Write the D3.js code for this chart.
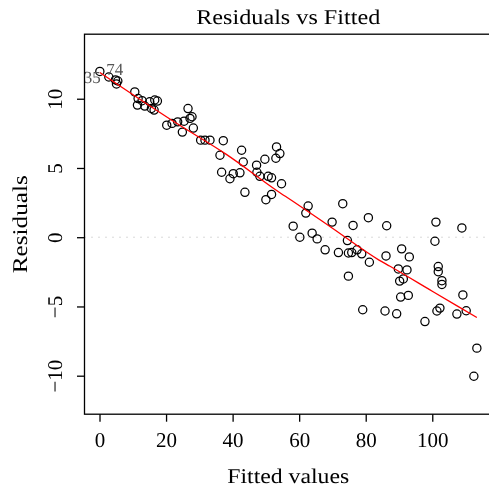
<!DOCTYPE html>
<html>
<head>
<meta charset="utf-8">
<script src="https://cdn.jsdelivr.net/npm/d3@7"></script>
<style>
  body { margin: 0; background: #fff; }
  svg { will-change: transform; }
  svg text { font-family: "Liberation Serif", serif; text-rendering: geometricPrecision; }
</style>
</head>
<body>
<div id="chart"></div>
<script>
// fitted values and residuals
var fitted = [0.1, 2.8, 4.8, 5.1, 5.5, 10.6, 11.6, 11.4, 12.8, 13.6, 15.1, 16.6, 17.4, 15.6, 16.4,
  20.2, 21.8, 23.5, 24.9, 26.6, 27.8, 27.2, 28.2, 25.4, 30.4, 31.7, 33.2, 37.2, 36.2, 42.7,
  43.2, 36.7, 39.2, 40.2, 42.2, 43.7, 47.2, 47.3, 49.7, 53.2, 54.2, 53.0, 48.2, 50.7, 51.7,
  54.7, 50.0, 51.7, 62.7, 62.0, 73.1, 80.8, 86.3, 58.2, 60.2, 63.9, 65.4, 69.9, 76.2, 67.8,
  71.8, 74.5, 74.8, 75.8, 77.4, 78.8, 81.1, 74.8, 86.1, 101.1, 108.9, 100.8, 90.8, 93.1, 89.8,
  92.4, 90.2, 91.3, 101.8, 101.8, 102.9, 102.9, 90.5, 92.8, 109.2, 85.8, 89.3, 97.8, 101.4, 102.3,
  107.4, 110.2, 113.4, 112.5, 79.1];
var residuals = [11.97, 11.57, 11.36, 11.07, 11.28, 10.49, 10.01, 9.54, 9.86, 9.47, 9.78, 9.91, 9.83, 9.30, 9.18,
  8.09, 8.22, 8.33, 7.59, 9.29, 8.70, 8.58, 7.88, 8.38, 7.01, 7.01, 7.01, 6.97, 5.92, 6.28,
  5.43, 4.69, 4.22, 4.59, 4.65, 3.24, 5.20, 4.69, 5.63, 6.52, 6.04, 5.70, 4.40, 4.40, 4.29,
  3.86, 2.71, 3.09, 2.25, 1.74, 2.42, 1.41, 0.83, 0.80, 0.00, 0.29, -0.12, 1.09, 0.85, -0.91,
  -1.11, -0.24, -1.14, -1.11, -0.91, -1.20, -1.81, -2.81, -1.35, 1.09, 0.67, -0.29, -0.84, -1.42, -2.29,
  -2.36, -3.17, -3.01, -2.12, -2.49, -3.14, -3.41, -4.32, -4.20, -4.17, -5.33, -5.53, -6.09, -5.33, -5.12,
  -5.55, -5.31, -8.01, -10.04, -5.24];

// smoother (red line)
var smoothX = [0.1, 24, 38, 54, 59, 70, 84, 87.3, 100, 113.4];
var smoothY = [11.9, 8.1, 6.0, 3.25, 2.45, 0.65, -1.65, -2.1, -3.9, -5.8];

// ids shown next to the first point
var idLabels = ["35", "74"];

var xTicks = [0, 20, 40, 60, 80, 100];
var yTicks = [-10, -5, 0, 5, 10];

var width = 489, height = 488;
var plotL = 84.5, plotR = 492, plotT = 34.2, plotB = 414.2;

var svg = d3.select("#chart").append("svg")
    .attr("width", width)
    .attr("height", height);

var x = d3.scaleLinear().domain([-4.51, 117.95]).range([plotL, plotR]);
var y = d3.scaleLinear().domain([-12.78, 14.66]).range([plotB, plotT]);

var pts = fitted.map(function (d, i) { return {x: d, y: residuals[i]}; });

// zero line
svg.append("line")
    .attr("x1", plotL).attr("x2", plotR)
    .attr("y1", y(0)).attr("y2", y(0))
    .attr("stroke", "#b3b3b3")
    .attr("stroke-width", 1)
    .attr("stroke-dasharray", "1,6");

// points
svg.append("g")
    .selectAll("circle")
    .data(pts)
    .enter()
    .append("circle")
    .attr("cx", function (d) { return x(d.x); })
    .attr("cy", function (d) { return y(d.y); })
    .attr("r", 4.1)
    .attr("fill", "none")
    .attr("stroke", "#000")
    .attr("stroke-width", 1.25);

// smoother
var line = d3.line()
    .x(function (d, i) { return x(smoothX[i]); })
    .y(function (d) { return y(d); })
    .curve(d3.curveMonotoneX);

svg.append("path")
    .datum(smoothY)
    .attr("d", line)
    .attr("fill", "none")
    .attr("stroke", "#ff0000")
    .attr("stroke-width", 1.3);

// point ids
svg.append("text")
    .attr("x", x(pts[0].x) + 1)
    .attr("y", y(pts[0].y) + 11.5)
    .attr("text-anchor", "end")
    .attr("fill", "#555")
    .style("font-size", "17px")
    .text(idLabels[0]);
svg.append("text")
    .attr("x", x(pts[0].x) + 6.5)
    .attr("y", y(pts[0].y) + 4)
    .attr("fill", "#555")
    .style("font-size", "17px")
    .text(idLabels[1]);

// box
svg.append("rect")
    .attr("x", plotL).attr("y", plotT)
    .attr("width", plotR - plotL).attr("height", plotB - plotT)
    .attr("fill", "none")
    .attr("stroke", "#000")
    .attr("stroke-width", 1.3);

// axes
var xAxis = svg.append("g")
    .attr("transform", "translate(0," + plotB + ")")
    .call(d3.axisBottom(x).tickValues(xTicks).tickSize(7.5).tickSizeOuter(0));
xAxis.select(".domain").remove();
xAxis.selectAll("line").attr("stroke-width", 1.3);
xAxis.selectAll("text")
    .attr("y", 33).attr("dy", 0)
    .attr("fill", "#000")
    .style("font-size", "21px");

var yAxis = svg.append("g")
    .attr("transform", "translate(" + plotL + ",0)")
    .call(d3.axisLeft(y).tickValues(yTicks).tickSize(7.5).tickSizeOuter(0)
        .tickFormat(function (d) { return d < 0 ? "\u2212" + Math.abs(d) : d; }));
yAxis.select(".domain").remove();
yAxis.selectAll("line").attr("stroke-width", 1.3);
yAxis.selectAll("text")
    .attr("x", 0).attr("dy", 0)
    .attr("transform", "translate(-23,0) rotate(-90)")
    .attr("text-anchor", "middle")
    .attr("fill", "#000")
    .style("font-size", "21px");

// titles
svg.append("text")
    .attr("x", (plotL + plotR) / 2)
    .attr("y", 24)
    .attr("text-anchor", "middle")
    .attr("textLength", 184)
    .attr("lengthAdjust", "spacingAndGlyphs")
    .style("font-size", "21px")
    .text("Residuals vs Fitted");

svg.append("text")
    .attr("x", (plotL + plotR) / 2)
    .attr("y", 483)
    .attr("text-anchor", "middle")
    .attr("textLength", 122)
    .attr("lengthAdjust", "spacingAndGlyphs")
    .style("font-size", "21px")
    .text("Fitted values");

svg.append("text")
    .attr("transform", "translate(27," + (plotT + plotB) / 2 + ") rotate(-90)")
    .attr("text-anchor", "middle")
    .attr("textLength", 98)
    .attr("lengthAdjust", "spacingAndGlyphs")
    .style("font-size", "21px")
    .text("Residuals");
</script>
</body>
</html>
